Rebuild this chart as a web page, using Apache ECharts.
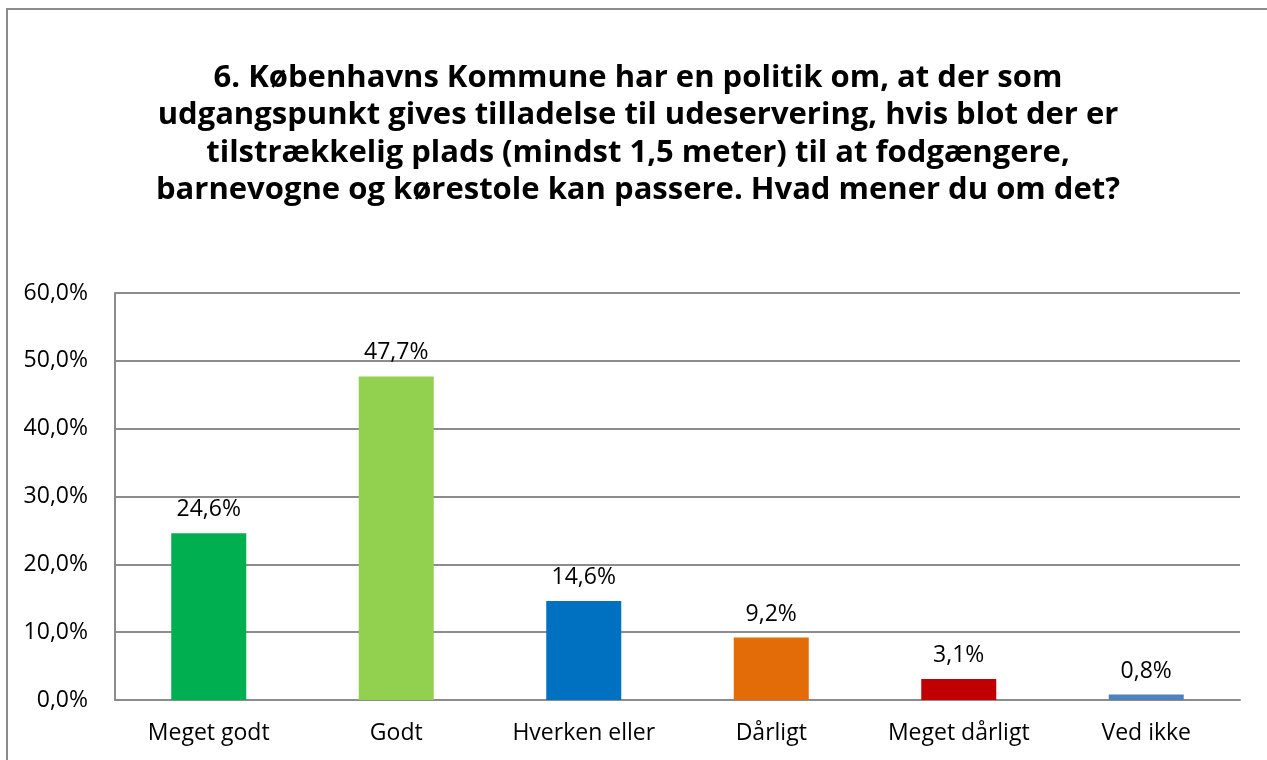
<!DOCTYPE html>
<html>
<head>
<meta charset="utf-8">
<title>Udeservering</title>
<script src="https://cdn.jsdelivr.net/npm/echarts@6/dist/echarts.min.js"></script>
<style>
    html, body { margin: 0; padding: 0; background: #fff; }
    #chart { width: 1267px; height: 760px; }
</style>
</head>
<body>
<div id="chart"></div>
<script>
// svarkategorier og andele (%)
const categories = ['Meget godt', 'Godt', 'Hverken eller', 'Dårligt', 'Meget dårligt', 'Ved ikke']
const shares = [24.6, 47.7, 14.6, 9.2, 3.1, 0.8]
const barColors = ['#00b050', '#92d050', '#0070c0', '#e36c09', '#c00000', '#4f81bd']
const yTicks = [0, 10, 20, 30, 40, 50, 60]

const titleLines = [
    '6. Københavns Kommune har en politik om, at der som',
    'udgangspunkt gives tilladelse til udeservering, hvis blot der er',
    'tilstrækkelig plads (mindst 1,5 meter) til at fodgængere,',
    'barnevogne og kørestole kan passere. Hvad mener du om det?'
]

const font = "'Open Sans', 'Liberation Sans', sans-serif"
const pct = v => v.toFixed(1).replace('.', ',') + '%'

const chart = echarts.init(document.getElementById('chart'))

const option = {
    backgroundColor: '#fff',
    animation: false,
    graphic: [{
        type: 'rect',
        shape: { x: 7, y: 9, width: 1300, height: 800 },
        style: { fill: 'none', stroke: '#8c8c8c', lineWidth: 2 },
        silent: true,
        z: -1
    }, {
        type: 'text',
        x: 638,
        y: 59,
        silent: true,
        style: {
            text: titleLines.join('\n'),
            font: 'bold 31px ' + font,
            fill: '#000',
            align: 'center',
            verticalAlign: 'top',
            lineHeight: 37.5
        }
    }],
    grid: {
        left: 115,
        right: 27,
        top: 293,
        bottom: 60,
        containLabel: false
    },
    xAxis: {
        type: 'category',
        data: categories,
        axisTick: { show: false },
        axisLine: { lineStyle: { color: '#8c8c8c', width: 2 } },
        axisLabel: {
            fontFamily: font,
            fontSize: 23,
            color: '#000',
            margin: 22,
            interval: 0
        }
    },
    yAxis: {
        type: 'value',
        min: yTicks[0],
        max: yTicks[yTicks.length - 1],
        interval: 10,
        axisLine: { show: true, lineStyle: { color: '#8c8c8c', width: 2 } },
        axisTick: { show: false },
        splitLine: { lineStyle: { color: '#8c8c8c', width: 2 } },
        axisLabel: {
            fontFamily: font,
            fontSize: 23,
            color: '#000',
            margin: 27,
            formatter: v => pct(v)
        }
    },
    series: [{
        type: 'bar',
        barWidth: '40%',
        data: shares.map((v, i) => ({
            value: v,
            itemStyle: { color: barColors[i % barColors.length] }
        })),
        label: {
            show: true,
            position: 'top',
            distance: 12,
            fontFamily: font,
            fontSize: 23,
            color: '#000',
            formatter: p => pct(p.value)
        }
    }]
}

chart.setOption(option)
</script>
</body>
</html>
